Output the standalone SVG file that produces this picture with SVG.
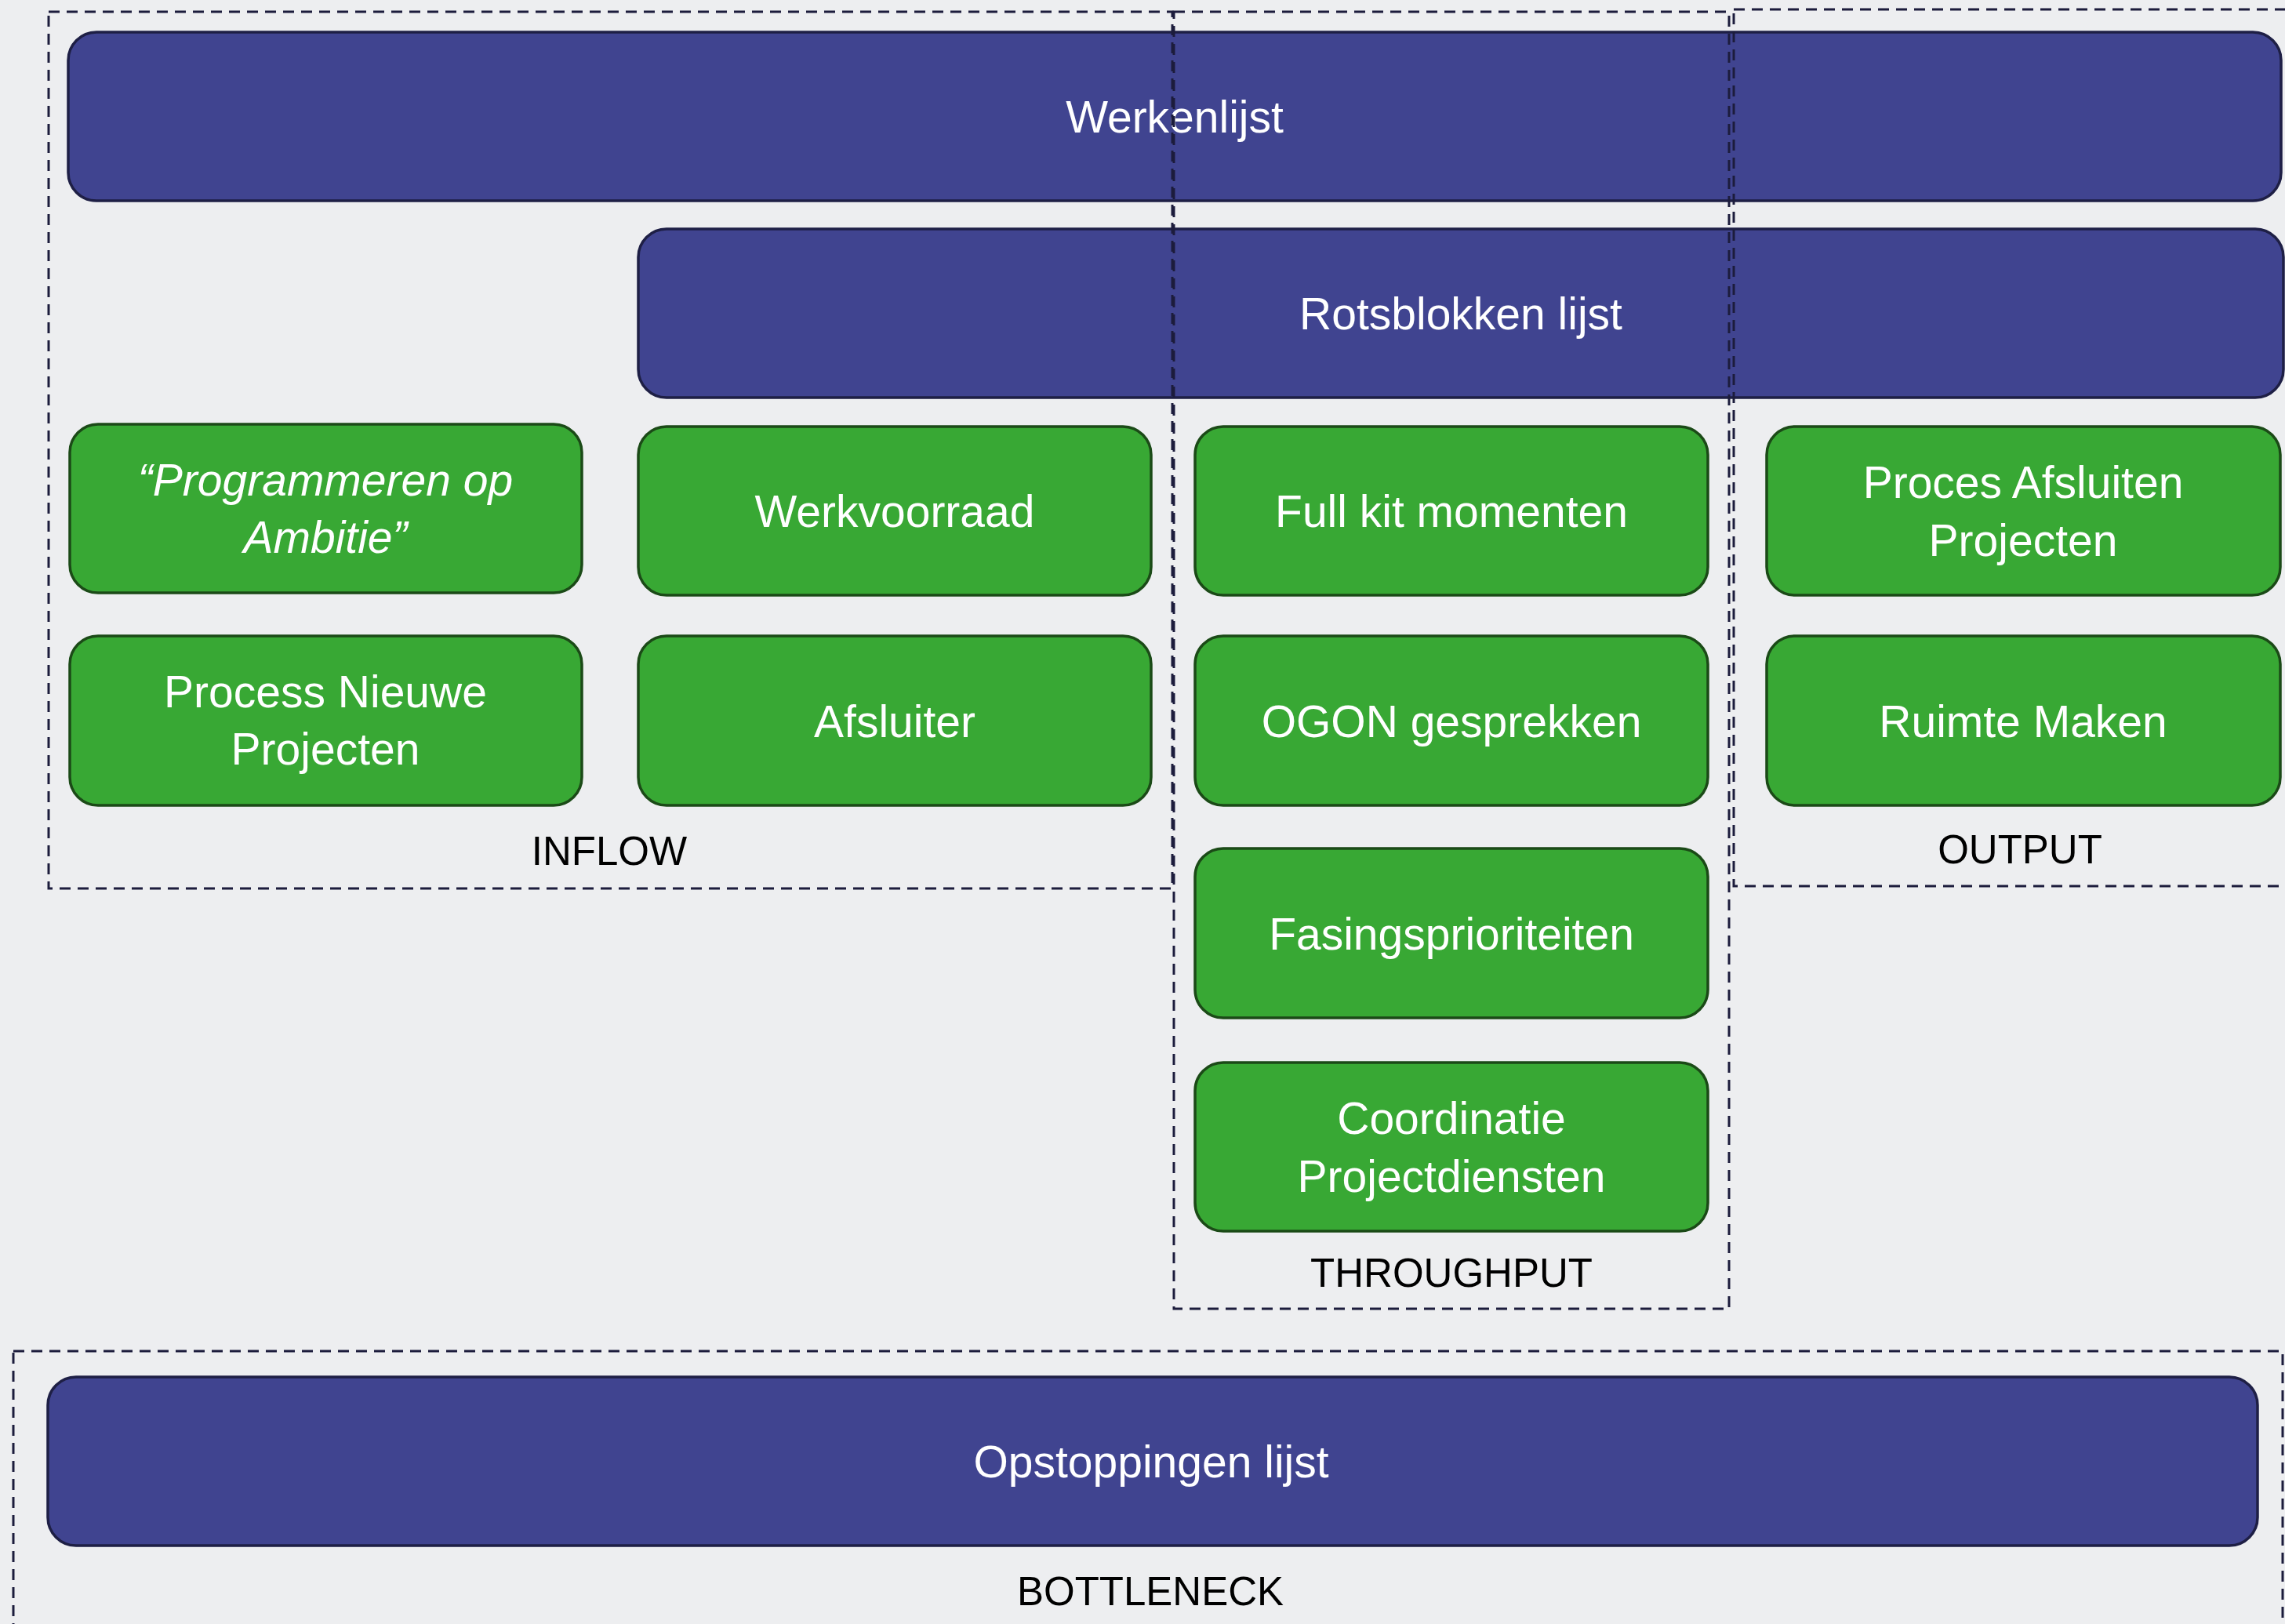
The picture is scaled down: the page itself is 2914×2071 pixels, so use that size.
<svg xmlns="http://www.w3.org/2000/svg" width="2914" height="2071" viewBox="0 0 2914 2071">
<style>
.bg{fill:#EDEEF0}
.blue{fill:#404490;stroke:#1E1F45;stroke-width:3.5}
.green{fill:#38A834;stroke:#1B4A17;stroke-width:3.5}
.wt{font-family:"Liberation Sans",Arial,sans-serif;font-size:57px;fill:#FFFFFF;text-anchor:middle}
.it{font-style:italic}
.lbl{font-family:"Liberation Sans",Arial,sans-serif;font-size:51px;fill:#000000;text-anchor:middle}
.grp{fill:none;stroke:#1C1C3C;stroke-width:3;stroke-dasharray:14 9}
</style>
<rect class="bg" x="0" y="0" width="2914" height="2071"/>

<g id="werkenlijst">
<rect class="blue" x="87" y="41" width="2822" height="215" rx="36" ry="36"/>
<text class="wt" x="1498" y="169">Werkenlijst</text>
</g>
<g id="rotsblokken">
<rect class="blue" x="814" y="292" width="2098" height="215" rx="36" ry="36"/>
<text class="wt" x="1863" y="420">Rotsblokken lijst</text>
</g>

<g id="programmeren">
<rect class="green" x="89" y="541" width="653" height="215" rx="36" ry="36"/>
<text class="wt it" x="415" y="632">“Programmeren op</text>
<text class="wt it" x="415" y="705">Ambitie”</text>
</g>
<g id="process-nieuwe">
<rect class="green" x="89" y="811" width="653" height="216" rx="36" ry="36"/>
<text class="wt" x="415" y="902">Process Nieuwe</text>
<text class="wt" x="415" y="975">Projecten</text>
</g>
<g id="werkvoorraad">
<rect class="green" x="814" y="544" width="654" height="215" rx="36" ry="36"/>
<text class="wt" x="1141" y="672">Werkvoorraad</text>
</g>
<g id="afsluiter">
<rect class="green" x="814" y="811" width="654" height="216" rx="36" ry="36"/>
<text class="wt" x="1141" y="940">Afsluiter</text>
</g>
<g id="full-kit">
<rect class="green" x="1524" y="544" width="654" height="215" rx="36" ry="36"/>
<text class="wt" x="1851" y="672">Full kit momenten</text>
</g>
<g id="ogon">
<rect class="green" x="1524" y="811" width="654" height="216" rx="36" ry="36"/>
<text class="wt" x="1851" y="940">OGON gesprekken</text>
</g>
<g id="fasings">
<rect class="green" x="1524" y="1082" width="654" height="216" rx="36" ry="36"/>
<text class="wt" x="1851" y="1211">Fasingsprioriteiten</text>
</g>
<g id="coordinatie">
<rect class="green" x="1524" y="1355" width="654" height="215" rx="36" ry="36"/>
<text class="wt" x="1851" y="1446">Coordinatie</text>
<text class="wt" x="1851" y="1520">Projectdiensten</text>
</g>
<g id="proces-afsluiten">
<rect class="green" x="2253" y="544" width="655" height="215" rx="36" ry="36"/>
<text class="wt" x="2580" y="635">Proces Afsluiten</text>
<text class="wt" x="2580" y="709">Projecten</text>
</g>
<g id="ruimte-maken">
<rect class="green" x="2253" y="811" width="655" height="216" rx="36" ry="36"/>
<text class="wt" x="2580" y="940">Ruimte Maken</text>
</g>

<g id="opstoppingen">
<rect class="blue" x="61" y="1756" width="2818" height="215" rx="36" ry="36"/>
<text class="wt" x="1468" y="1884">Opstoppingen lijst</text>
</g>

<g id="groups">
<rect class="grp" x="62" y="15" width="1433" height="1118"/>
<rect class="grp" x="1497" y="15" width="708" height="1654"/>
<rect class="grp" x="2211" y="12" width="720" height="1118"/>
<rect class="grp" x="17" y="1723" width="2894" height="380"/>
<text class="lbl" x="777" y="1103">INFLOW</text>
<text class="lbl" x="1851" y="1641">THROUGHPUT</text>
<text class="lbl" x="2576" y="1101">OUTPUT</text>
<text class="lbl" x="1467" y="2047" font-size="49">BOTTLENECK</text>
</g>

<g id="connectors"/>
</svg>
